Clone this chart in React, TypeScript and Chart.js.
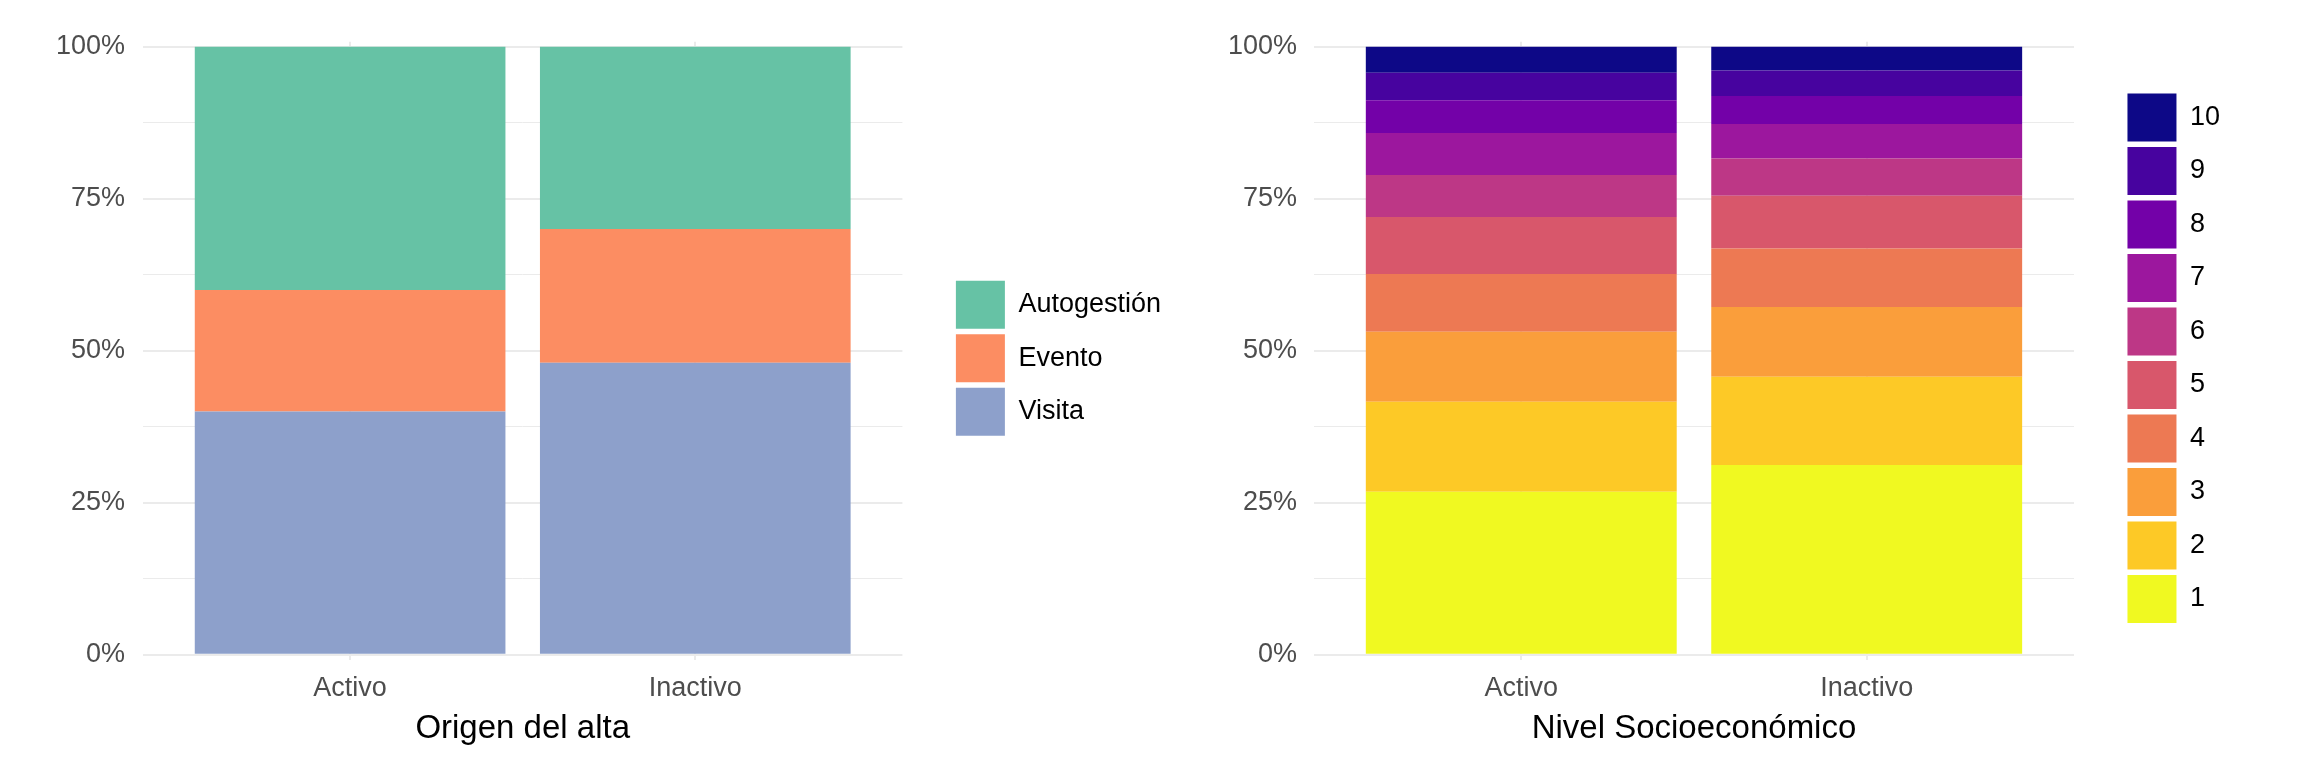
import React, { useEffect, useRef } from 'react';
import { Chart, registerables } from 'chart.js';

Chart.register(...registerables);

// ---------- Data ----------
const categories = ['Activo', 'Inactivo'];

// Left panel: Origen del alta (percent of each group)
const origenLevels = ['Visita', 'Evento', 'Autogestión'];
const visita = [40, 48];
const evento = [20, 22];
const autogestion = [40, 30];
const origenColors = ['#8DA0CB', '#FC8D62', '#66C2A5'];

// Right panel: Nivel Socioeconómico (percent of each group, level 1..10)
const nseLevels = ['1', '2', '3', '4', '5', '6', '7', '8', '9', '10'];
const nseActivo = [26.8, 14.8, 11.5, 9.5, 9.4, 6.9, 6.9, 5.4, 4.5, 4.3];
const nseInactivo = [31.2, 14.5, 11.5, 9.6, 8.7, 6.1, 5.7, 4.6, 4.2, 3.9];
const nseColors = [
  '#F0F921', '#FDC926', '#FA9E3B', '#ED7953', '#D8576B',
  '#BD3786', '#9C179E', '#7301A8', '#47039F', '#0D0887',
];

const yTickValues = [0, 12.5, 25, 37.5, 50, 62.5, 75, 87.5, 100];

const FONT = "'Liberation Sans', Arial, Helvetica, sans-serif";
const GRID = '#EBEBEB';

function makeDatasets(labels: string[], series: number[][], colors: string[]) {
  return labels.map((lab, k) => ({
    label: lab,
    data: categories.map((_, i) => ({ x: i + 1, y: series[k][i] })),
    backgroundColor: colors[k],
    borderWidth: 0,
    barPercentage: 1,
    categoryPercentage: 0.9,
    xAxisID: 'x',
    yAxisID: 'y',
  }));
}

function makeOptions(xTitle: string, yAxisWidth: number, yLabelPad: number): any {
  return {
    animation: false,
    responsive: false,
    maintainAspectRatio: false,
    layout: { padding: { top: 41.8, bottom: 0, left: 0, right: 0 } },
    plugins: {
      tooltip: { enabled: false },
      title: { display: false },
      legend: {
        position: 'right',
        fullSize: false,
        reverse: true,
        maxWidth: 400,
        title: { display: true, text: ' ', font: { size: 10, family: FONT }, padding: { top: 3, bottom: 0 } },
        labels: {
          boxWidth: 49,
          boxHeight: 48,
          padding: 5.5,
          color: '#000000',
          font: { family: FONT, size: 27 },
        },
      },
    },
    scales: {
      x: {
        type: 'linear',
        min: 0.4,
        max: 2.6,
        offset: false,
        stacked: true,
        afterBuildTicks: (s: any) => {
          s.ticks = categories.map((_, i) => ({ value: i + 1 }));
        },
        afterFit: (s: any) => {
          s.height = 102.4;
        },
        grid: { color: GRID, lineWidth: 2, drawTicks: false, offset: false },
        border: { display: false },
        ticks: {
          padding: 13,
          color: '#4D4D4D',
          autoSkip: false,
          maxRotation: 0,
          font: { family: FONT, size: 27 },
          callback: (_v: any, i: number) => categories[i],
        },
        title: {
          display: true,
          text: xTitle,
          color: '#000000',
          font: { family: FONT, size: 33 },
          padding: { top: 0, bottom: 13 },
        },
      },
      y: {
        type: 'linear',
        position: 'left',
        min: -0.8,
        max: 100.8,
        stacked: true,
        afterBuildTicks: (s: any) => {
          s.ticks = yTickValues.map((v) => ({ value: v }));
        },
        afterFit: (s: any) => {
          s.width = yAxisWidth;
        },
        grid: {
          color: GRID,
          drawTicks: false,
          lineWidth: (ctx: any) => (ctx.tick && ctx.tick.value % 25 === 0 ? 2 : 1),
        },
        border: { display: false },
        ticks: {
          padding: yLabelPad,
          color: '#4D4D4D',
          autoSkip: false,
          font: { family: FONT, size: 27 },
          callback: (v: any) => (Number(v) % 25 === 0 ? `${v}%` : ''),
        },
      },
      spacer: {
        type: 'linear',
        position: 'right',
        display: true,
        grid: { display: false, drawTicks: false },
        border: { display: false },
        ticks: { display: false },
        afterFit: (s: any) => {
          s.width = 48;
        },
      },
    },
  };
}

function BarPanel(props: {
  left: number;
  width: number;
  datasets: any[];
  xTitle: string;
  yAxisWidth: number;
  yLabelPad: number;
}) {
  const ref = useRef<HTMLCanvasElement | null>(null);
  useEffect(() => {
    if (!ref.current) return;
    const chart = new Chart(ref.current, {
      type: 'bar',
      data: { datasets: props.datasets },
      options: makeOptions(props.xTitle, props.yAxisWidth, props.yLabelPad),
    });
    return () => chart.destroy();
  }, []);
  return (
    <canvas
      ref={ref}
      width={props.width}
      height={762}
      style={{ position: 'absolute', left: props.left, top: 0, width: props.width, height: 762 }}
    />
  );
}

export default function App() {
  const origenSets = makeDatasets(origenLevels, [visita, evento, autogestion], origenColors);
  const nseSets = makeDatasets(
    nseLevels,
    nseLevels.map((_, k) => [nseActivo[k], nseInactivo[k]]),
    nseColors,
  );
  return (
    <div style={{ position: 'absolute', left: 0, top: 0, width: 2304, height: 762, background: '#FFFFFF' }}>
      <BarPanel left={0} width={1171} datasets={origenSets} xTitle="Origen del alta" yAxisWidth={143} yLabelPad={18} />
      <BarPanel left={1172} width={1058} datasets={nseSets} xTitle="Nivel Socioeconómico" yAxisWidth={142} yLabelPad={17} />
    </div>
  );
}
